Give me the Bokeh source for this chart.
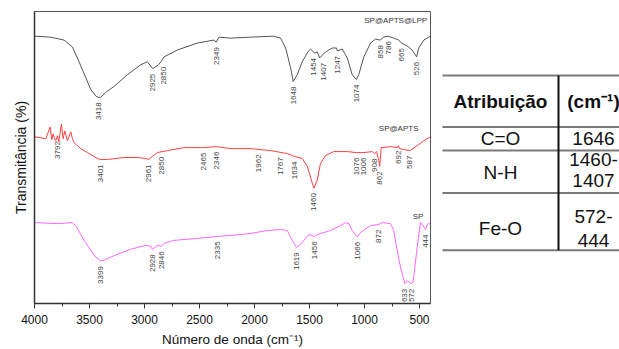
import numpy as np
from bokeh.plotting import figure
from bokeh.models import Range1d, FixedTicker, ColumnDataSource
from bokeh.layouts import row
from bokeh.embed import file_html
from bokeh.resources import INLINE
from bokeh.core.properties import value

FONT = "Liberation Sans"

# ---------------- data ----------------
# SP@APTS@LPP (black)
wn_lpp = [4000, 3852, 3731, 3655, 3595, 3534, 3489, 3440, 3418, 3398, 3352, 3277, 3155, 3034, 2974,
          2925, 2874, 2850, 2823, 2701, 2519, 2369, 2349, 2323, 2217, 2035, 1824, 1763, 1717, 1672,
          1648, 1611, 1566, 1515, 1490, 1454, 1430, 1407, 1354, 1293, 1254, 1247, 1202, 1157, 1112,
          1074, 1052, 1006, 945, 900, 858, 825, 786, 734, 688, 665, 612, 567, 526, 507, 461, 400]
t_lpp = [271, 270, 267, 260, 245, 229, 217, 210, 209, 209, 214, 220, 232, 242, 245,
         238, 242, 245, 250, 257, 264, 267, 265, 270, 269, 270, 271, 269, 259, 239,
         225, 232, 245, 255, 258, 254, 255, 249, 255, 259, 259, 256, 258, 249, 232,
         227, 232, 250, 264, 268, 267, 270, 271, 269, 267, 264, 261, 257, 250, 259, 267, 271]
lpp_peaks = [3418, 2925, 2850, 2349, 1648, 1454, 1407, 1247, 1074, 858, 786, 665, 526]

# SP@APTS (red)
wn_apts = [4000, 3943, 3897, 3858, 3843, 3831, 3820, 3807, 3791, 3779, 3755, 3740, 3725, 3700, 3670,
           3655, 3640, 3609, 3579, 3519, 3428, 3401, 3337, 3186, 3064, 2990, 2961, 2930, 2883, 2792,
           2641, 2489, 2465, 2346, 2217, 2035, 1854, 1702, 1634, 1566, 1520, 1475, 1460, 1430, 1400,
           1354, 1279, 1157, 1076, 1006, 930, 908, 890, 870, 862, 848, 764, 700, 692, 680,
           643, 587, 521, 461, 400]
t_apts = [169, 168, 167, 179, 166, 172, 168, 165, 170, 164, 182, 167, 175, 165, 174,
          167, 163, 160, 157, 153, 147, 146, 146, 148, 148, 147, 146, 149, 153, 155,
          158, 158, 158, 159, 157, 157, 155, 152, 149, 147, 139, 122, 117, 125, 142,
          150, 154, 154, 153, 153, 154, 152, 154, 145, 139, 158, 159, 158, 160, 157,
          156, 155, 160, 165, 169]
apts_peaks = [3792, 3401, 2961, 2850, 2465, 2346, 1962, 1767, 1634, 1460, 1076, 1006, 908, 862, 692, 587]

# SP (magenta)
wn_sp = [4000, 3791, 3655, 3625, 3549, 3459, 3399, 3368, 3246, 3125, 2989, 2944, 2928, 2877, 2846,
         2823, 2732, 2519, 2335, 2217, 2035, 1884, 1763, 1702, 1657, 1619, 1581, 1506, 1456, 1415,
         1309, 1218, 1172, 1142, 1112, 1066, 1036, 945, 872, 839, 764, 734, 703, 673, 633,
         612, 572, 558, 521, 491, 476, 444, 431, 400]
t_sp = [82, 81, 82, 79, 64, 49, 43, 44, 50, 55, 59, 58, 55, 59, 58,
        61, 64, 66, 68, 69, 71, 74, 75, 74, 64, 57, 60, 70, 68, 70.5,
        74, 79, 82, 81, 74, 67.5, 72, 79, 80, 82, 81, 74, 54, 37, 20,
        23, 20, 22, 57, 82, 80, 75, 80, 82]
sp_peaks = [3399, 2928, 2846, 2335, 1619, 1456, 1066, 872, 633, 572, 444]

series_names = ["SP@APTS@LPP", "SP@APTS", "SP"]
series_colors = ["#555555", "#ff4040", "#ff66ff"]

x_ticks = [4000, 3500, 3000, 2500, 2000, 1500, 1000, 500]
x_minor = [3750, 3250, 2750, 2250, 1750, 1250, 750]

tab_header = ["Atribuição", "(cm⁻¹)"]
tab_groups = ["C=O", "N-H", "Fe-O"]
tab_values = [["1646"], ["1460-", "1407"], ["572-", "444"]]

# small horizontal nudges (px) for crowded peak labels
label_nudge = {("lpp", 1407): 4, ("lpp", 2850): 2, ("lpp", 1454): -1}

# ---------------- spectra plot ----------------
p = figure(width=432, height=349, x_range=Range1d(4000, 400), y_range=Range1d(0, 296),
           output_backend="svg", toolbar_location=None,
           min_border_left=34, min_border_right=2, min_border_top=11, min_border_bottom=42)
p.grid.visible = False
p.outline_line_color = "#555555"
p.outline_line_width = 1
p.background_fill_color = "white"
p.border_fill_color = "white"

all_series = [("lpp", wn_lpp, t_lpp, lpp_peaks), ("apts", wn_apts, t_apts, apts_peaks),
              ("sp", wn_sp, t_sp, sp_peaks)]
for (key, wn, tt, peaks), color in zip(all_series, series_colors):
    p.line(wn, tt, line_color=color, line_width=1)
    ly = np.interp(peaks, np.array(wn)[::-1], np.array(tt)[::-1])
    xo = [label_nudge.get((key, v), 0) for v in peaks]
    src = ColumnDataSource(dict(x=peaks, y=ly, xo=xo, text=[str(v) for v in peaks]))
    p.text(x="x", y="y", text="text", source=src, angle=np.pi / 2, text_align="right",
           text_baseline="middle", x_offset="xo", y_offset=5, text_font=value(FONT),
           text_font_size="8px", text_color="#444444")

name_src = ColumnDataSource(dict(x=[430, 509, 464], y=[287, 177, 88], text=series_names))
p.text(x="x", y="y", text="text", source=name_src, text_align="right", text_baseline="middle",
       text_font=value(FONT), text_font_size="8px", text_color="#333333")

xa = p.xaxis[0]
xa.ticker = FixedTicker(ticks=x_ticks, minor_ticks=x_minor)
xa.major_tick_in = 0
xa.major_tick_out = 5
xa.minor_tick_in = 0
xa.minor_tick_out = 3
xa.major_label_standoff = 6
xa.major_label_text_font = FONT
xa.major_label_text_font_size = "12px"
xa.major_label_text_color = "#111111"
xa.axis_label = "Número de onda (cm⁻¹)"
xa.axis_label_text_font = FONT
xa.axis_label_text_font_size = "13.5px"
xa.axis_label_text_font_style = "normal"
xa.axis_label_text_color = "#111111"
xa.axis_label_standoff = 5
xa.axis_line_color = "#333333"
xa.axis_line_width = 1.5
xa.major_tick_line_color = "#333333"
xa.minor_tick_line_color = "#333333"

ya = p.yaxis[0]
ya.ticker = FixedTicker(ticks=[])
ya.major_tick_out = 0
ya.major_tick_in = 0
ya.minor_tick_out = 0
ya.minor_tick_in = 0
ya.major_label_text_font_size = "0px"
ya.axis_label = "Transmitância (%)"
ya.axis_label_text_font = FONT
ya.axis_label_text_font_size = "14px"
ya.axis_label_text_font_style = "normal"
ya.axis_label_text_color = "#111111"
ya.axis_label_standoff = 6
ya.axis_line_color = "#333333"
ya.axis_line_width = 1.5

# ---------------- table ----------------
# frame is aligned with the spectra frame (page rows 11..307), so ranges are in page pixels
t = figure(width=187, height=349, x_range=Range1d(432, 619), y_range=Range1d(307, 11),
           output_backend="svg", toolbar_location=None, min_border=0)
t.axis.visible = False
t.grid.visible = False
t.outline_line_color = None

hlines = [76, 128, 152, 195, 253]
t.segment(x0=[442] * len(hlines), y0=hlines, x1=[640] * len(hlines), y1=hlines,
          line_color="#7a7a7a", line_width=2)
t.segment(x0=[558], y0=[76], x1=[558], y1=[253], line_color="#111111", line_width=2)

t.text(x=[500, 593], y=[102, 102], text=tab_header, text_align="center", text_baseline="middle",
       text_font=value(FONT), text_font_size="19px", text_font_style="bold", text_color="#111111")

group_y = [140, 174, 231]
t.text(x=[500] * 3, y=group_y, text=tab_groups, text_align="center", text_baseline="middle",
       text_font=value(FONT), text_font_size="19px", text_color="#111111")

val_y = [[140], [161, 182], [219, 243]]
vx, vy, vt = [], [], []
for lines, ys in zip(tab_values, val_y):
    for s, yy in zip(lines, ys):
        vx.append(593)
        vy.append(yy)
        vt.append(s)
t.text(x=vx, y=vy, text=vt, text_align="center", text_baseline="middle",
       text_font=value(FONT), text_font_size="19px", text_color="#111111")

layout = row(p, t, spacing=0)
open("out.html", "w").write(file_html(layout, INLINE))
